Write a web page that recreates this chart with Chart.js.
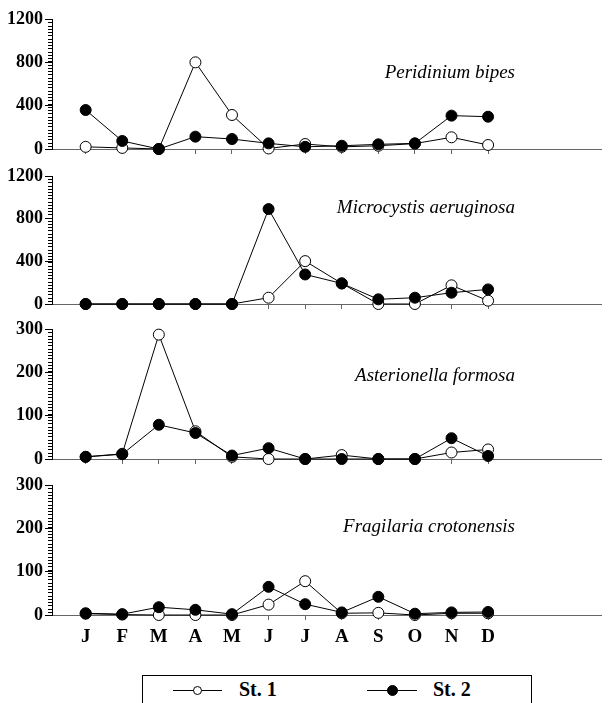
<!DOCTYPE html>
<html>
<head>
<meta charset="utf-8">
<script src="https://cdn.jsdelivr.net/npm/chart.js@4/dist/chart.umd.min.js"></script>
<style>
  body { margin: 0; background: #fff; }
  #wrap { position: relative; width: 608px; height: 703px; overflow: hidden; }
  .panel { position: absolute; left: 0; width: 608px; }
  #legend { position: absolute; left: 142px; top: 675px; width: 390px; height: 40px;
            border: 1px solid #000; box-sizing: border-box;
            font: bold 20px "Liberation Serif", serif; }
  .item { position: absolute; top: 0; height: 30px; }
  .seg { position: absolute; top: 14px; height: 1px; width: 49px; background: #000; }
  .dot { position: absolute; border: 1px solid #000; border-radius: 50%; box-sizing: border-box; }
  .lab { position: absolute; top: 2px; white-space: nowrap; }
</style>
</head>
<body>
<div id="wrap">
  <div class="panel" style="top:0;height:163px"><canvas id="p1"></canvas></div>
  <div class="panel" style="top:160px;height:158px"><canvas id="p2"></canvas></div>
  <div class="panel" style="top:315px;height:158px"><canvas id="p3"></canvas></div>
  <div class="panel" style="top:470px;height:180px"><canvas id="p4"></canvas></div>
  <div id="legend">
    <div class="item" style="left:30px">
      <div class="seg" style="left:0"></div>
      <div class="dot" style="left:20px;top:10px;width:9px;height:9px;background:#fff"></div>
      <div class="lab" style="left:66px">St. 1</div>
    </div>
    <div class="item" style="left:224px">
      <div class="seg" style="left:0;width:50px"></div>
      <div class="dot" style="left:20px;top:9px;width:11px;height:11px;background:#000"></div>
      <div class="lab" style="left:66px">St. 2</div>
    </div>
  </div>
</div>
<script>
/* mois */
var months = ['J', 'F', 'M', 'A', 'M', 'J', 'J', 'A', 'S', 'O', 'N', 'D'];

/* Peridinium bipes */
var peridiniumSt1 = [20, 10, 0, 800, 314, 5, 46, 20, 30, 50, 108, 37];
var peridiniumSt2 = [360, 74, 0, 114, 92, 52, 20, 30, 43, 52, 308, 298];

/* Microcystis aeruginosa */
var microcystisSt1 = [0, 0, 0, 0, 0, 59, 402, 193, 0, 0, 175, 31];
var microcystisSt2 = [0, 0, 0, 0, 0, 890, 277, 193, 44, 59, 106, 137];

/* Asterionella formosa */
var asterionellaSt1 = [5, 12, 287, 64, 5, 0, 0, 9, 0, 0, 15, 22];
var asterionellaSt2 = [5, 11, 79, 60, 8, 25, 0, 0, 0, 0, 48, 7];

/* Fragilaria crotonensis */
var fragilariaSt1 = [3, 1, 0, 0, 0, 24, 78, 4, 5, 0, 4, 4];
var fragilariaSt2 = [4, 2, 18, 12, 2, 65, 25, 6, 42, 3, 6, 7];

var ticksBig = [0, 400, 800, 1200];
var ticksSmall = [0, 100, 200, 300];

var SERIF = 'Liberation Serif';
Chart.defaults.font.family = SERIF;

/* petits traits de graduation + nom de l'espèce */
function decor(minor, title, titleAt) {
    return {
        id: 'decor',
        afterDraw: function (chart) {
            var y = chart.scales.y, ctx = chart.ctx;
            var left = chart.chartArea.left;
            var n = Math.round((y.max - y.min) / minor);
            ctx.save();
            ctx.fillStyle = '#000';
            for (var k = 0; k <= n; k++) {
                var py = Math.round(y.getPixelForValue(y.min + k * minor));
                ctx.fillRect(left - 4, py, 4, 1);
            }
            ctx.font = 'italic 19px ' + SERIF;
            ctx.textAlign = 'right';
            ctx.textBaseline = 'middle';
            ctx.fillText(title, 515, y.getPixelForValue(titleAt));
            ctx.restore();
        }
    };
}

function pts(arr) {
    return arr.map(function (v, i) { return { x: i, y: v }; });
}

function makePanel(id, st1, st2, yTicks, minor, title, titleAt, padTop, xHeight, showMonths) {
    new Chart(document.getElementById(id).getContext('2d'), {
        type: 'line',
        data: {
            datasets: [{
                label: 'St. 2',
                data: pts(st2),
                borderColor: '#000',
                borderWidth: 1,
                backgroundColor: '#000',
                pointBackgroundColor: '#000',
                pointBorderColor: '#000',
                pointRadius: 5.5,
                tension: 0,
                clip: false
            }, {
                label: 'St. 1',
                data: pts(st1),
                borderColor: '#000',
                borderWidth: 1,
                backgroundColor: '#fff',
                pointBackgroundColor: '#fff',
                pointBorderColor: '#000',
                pointBorderWidth: 1,
                pointRadius: 5.5,
                tension: 0,
                clip: false
            }]
        },
        options: {
            responsive: true,
            maintainAspectRatio: false,
            animation: false,
            layout: { padding: { top: padTop, left: 0, right: 0, bottom: 0 } },
            plugins: {
                legend: { display: false },
                tooltip: { enabled: false }
            },
            scales: {
                x: {
                    type: 'linear',
                    min: -0.92,
                    max: 14.1,
                    afterBuildTicks: function (s) {
                        s.ticks = months.map(function (m, i) { return { value: i }; });
                    },
                    afterFit: function (s) { s.height = xHeight; },
                    grid: { drawOnChartArea: false, tickLength: 5, color: '#666' },
                    border: { color: '#666' },
                    ticks: {
                        display: showMonths,
                        autoSkip: false,
                        maxRotation: 0,
                        padding: 6,
                        color: '#000',
                        font: { family: SERIF, size: 19, weight: 'bold' },
                        callback: function (v) { return months[v]; }
                    }
                },
                y: {
                    min: yTicks[0],
                    max: yTicks[yTicks.length - 1],
                    afterBuildTicks: function (s) {
                        s.ticks = yTicks.map(function (v) { return { value: v }; });
                    },
                    afterFit: function (s) { s.width = 52; },
                    grid: { drawOnChartArea: false, tickLength: 7, color: '#000' },
                    border: { color: '#000' },
                    ticks: {
                        padding: 2,
                        color: '#000',
                        font: { family: SERIF, size: 18, weight: 'bold' },
                        callback: function (v) { return String(v); }
                    }
                }
            }
        },
        plugins: [decor(minor, title, titleAt)]
    });
}

makePanel('p1', peridiniumSt1, peridiniumSt2, ticksBig, 30, 'Peridinium bipes', 700, 19, 14, false);
makePanel('p2', microcystisSt1, microcystisSt2, ticksBig, 30, 'Microcystis aeruginosa', 900, 16, 14, false);
makePanel('p3', asterionellaSt1, asterionellaSt2, ticksSmall, 7.5, 'Asterionella formosa', 191, 14, 14, false);
makePanel('p4', fragilariaSt1, fragilariaSt2, ticksSmall, 7.5, 'Fragilaria crotonensis', 203, 15, 35, true);
</script>
</body>
</html>
